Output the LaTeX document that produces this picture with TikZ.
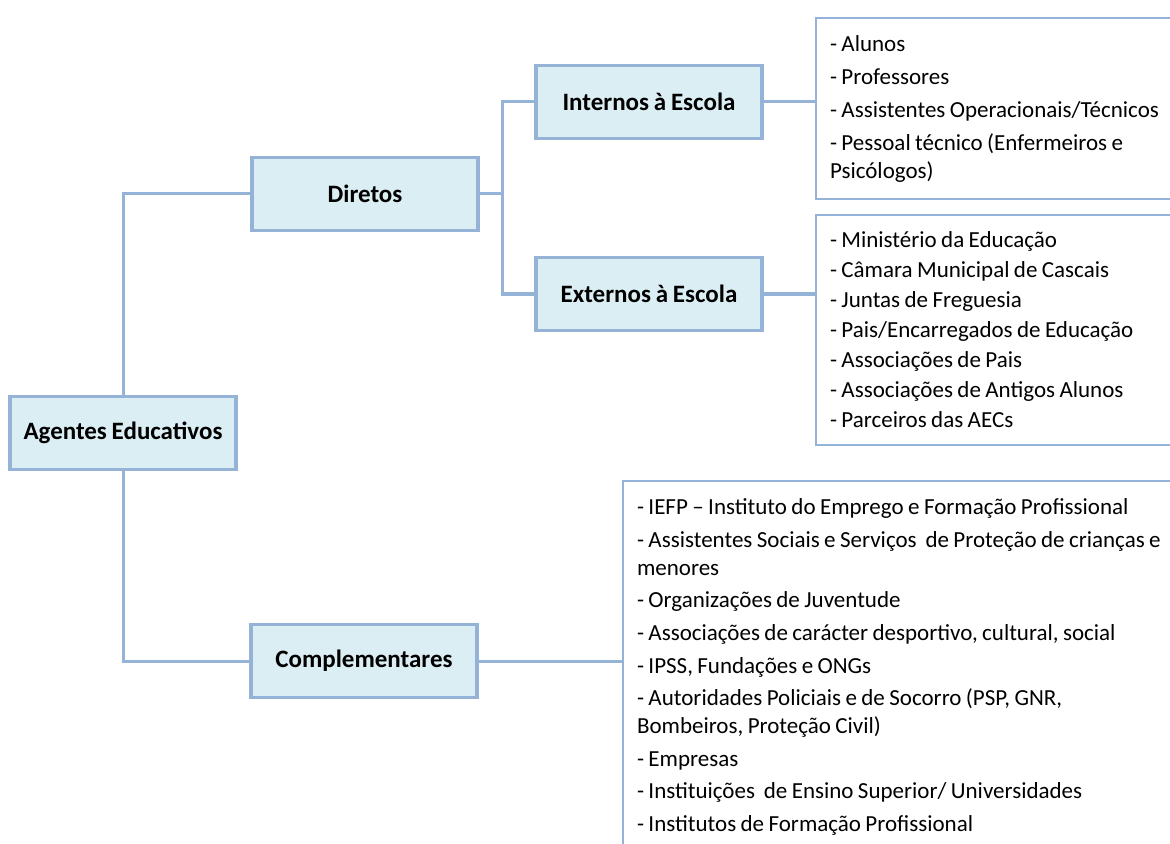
\documentclass[tikz,border=0pt]{standalone}
\usepackage{fontspec}
\setmainfont{Carlito}[WordSpace={0.85,0,0}]
\usetikzlibrary{positioning}

\definecolor{okraj}{HTML}{95B3D7}
\definecolor{vypln}{HTML}{DBEEF4}

\begin{document}
\begin{tikzpicture}[x=0.5pt, y=-0.5pt,
  box/.style={draw=okraj, line width=1.8pt, fill=vypln, minimum width=113pt,
    minimum height=36.5pt, inner sep=0pt, font=\fontsize{12.5}{14}\selectfont\bfseries},
  lista/.style={draw=okraj, line width=1pt, fill=white, anchor=north west, align=flush left,
    text width=290pt, inner xsep=7pt, inner ysep=0pt, font=\fontsize{11.5}{14}\selectfont},
  ramo/.style={draw=okraj, line width=1.5pt}]

\useasboundingbox (0,0) rectangle (1170,844);

% caixas principais
\node[box] (agentes) at (123,433) {Agentes Educativos};
\node[box] (diretos) at (365,194) {Diretos};
\node[box] (compl) at (364,661) {Complementares};
\node[box] (internos) at (649,102) {Internos à Escola};
\node[box] (externos) at (649,294) {Externos à Escola};

% listas
\node[lista, minimum height=90.5pt, yshift=-1pt] (lista1) at (815,15) {%
  - Alunos\\[2.5pt]
  - Professores\\[2.5pt]
  - Assistentes Operacionais/Técnicos\\[2.5pt]
  - Pessoal técnico (Enfermeiros e\\
  Psicólogos)};
\node[lista, minimum height=115pt] (lista2) at (815,214) {%
  - Ministério da Educação\\[1pt]
  - Câmara Municipal de Cascais\\[1pt]
  - Juntas de Freguesia\\[1pt]
  - Pais/Encarregados de Educação\\[1pt]
  - Associações de Pais\\[1pt]
  - Associações de Antigos Alunos\\[1pt]
  - Parceiros das AECs};
\node[lista, minimum height=186pt] (lista3) at (622,480) {%
  - IEFP -- Instituto do Emprego e Formação Profissional\\[2.3pt]
  - Assistentes Sociais e Serviços~ de Proteção de crianças e\\
  menores\\[2.3pt]
  - Organizações de Juventude\\[2.3pt]
  - Associações de carácter desportivo, cultural, social\\[2.3pt]
  - IPSS, Fundações e ONGs\\[2.3pt]
  - Autoridades Policiais e de Socorro (PSP, GNR,\\
  Bombeiros, Proteção Civil)\\[2.3pt]
  - Empresas\\[2.3pt]
  - Instituições~ de Ensino Superior/ Universidades\\[2.3pt]
  - Institutos de Formação Profissional};

% ligações
\coordinate (no) at (502,194);
\draw[ramo] (agentes.north) |- (diretos.west);
\draw[ramo] (agentes.south) |- (compl.west);
\draw[ramo] (diretos.east) -- (no);
\draw[ramo] (internos.west) -| (no) |- (externos.west);
\draw[ramo] (internos.east) -- (internos.east -| lista1.west);
\draw[ramo] (externos.east) -- (externos.east -| lista2.west);
\draw[ramo] (compl.east) -- (compl.east -| lista3.west);

\end{tikzpicture}
\end{document}
